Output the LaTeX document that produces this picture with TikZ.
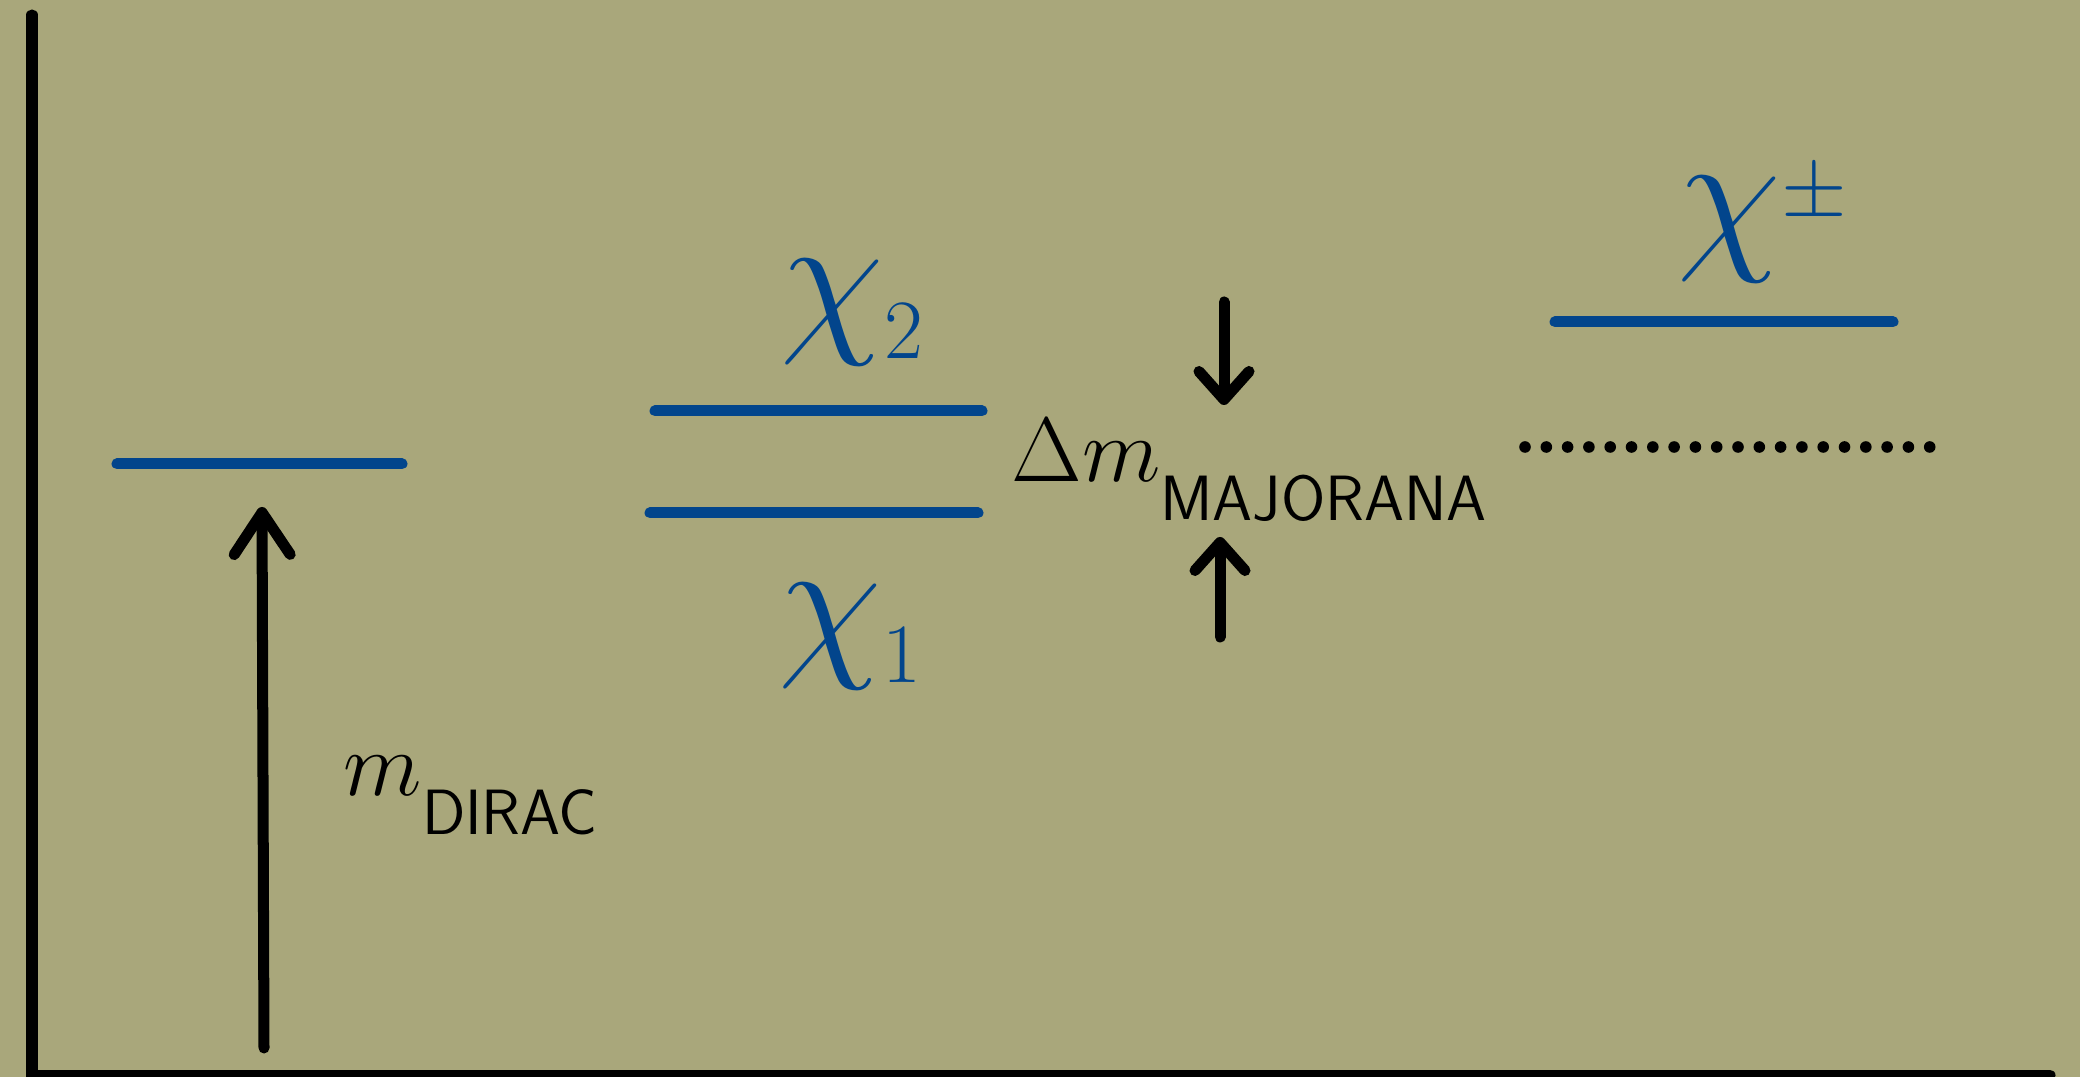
\documentclass[tikz,border=0pt]{standalone}
\usepackage{fix-cm}
\usetikzlibrary{arrows.meta}

\definecolor{paper}{RGB}{169,167,123}
\definecolor{levelblue}{RGB}{2,69,140}

% subscript set a little lower, as in the sketch
\newcommand{\lowsub}[1]{_{\raisebox{-7pt}{$\scriptstyle\mathsf{#1}$}}}

\tikzset{
  level/.style={levelblue, line width=0.11cm, line cap=round},
  pen/.style={black, line width=0.11cm, line cap=round},
  bigtip/.style={-{Straight Barb[length=0.42cm, width=0.56cm, round]}},
  smalltip/.style={-{Straight Barb[length=0.28cm, width=0.50cm, round]}},
  lab/.style={font=\fontsize{26}{30}\selectfont, inner sep=0pt},
  chilab/.style={levelblue, font=\fontsize{48}{56}\selectfont, inner sep=0pt},
}

\begin{document}
\begin{tikzpicture}[x=0.01cm, y=-0.01cm, line cap=round, line join=round]

  % Paper
  \fill[paper] (0,0) rectangle (2080,1077);
  \useasboundingbox (0,0) rectangle (2080,1077);

  % Axes
  \coordinate (ax-top) at (32,15);
  \coordinate (ax-org) at (32,1075);
  \coordinate (ax-end) at (2050,1075);
  \draw[pen, line join=miter] (ax-top) -- (ax-org) -- (ax-end);

  % Dirac level and its mass
  \coordinate (dirac-l) at (117,464);
  \coordinate (dirac-r) at (402,464);
  \draw[level] (dirac-l) -- (dirac-r);
  \coordinate (dirac-base) at (264,1048);
  \coordinate (dirac-tip) at (262,507);
  \draw[pen, bigtip] (dirac-base) -- (dirac-tip);
  \node[lab, anchor=base west] (mdirac) at (343,796) {$m\lowsub{DIRAC}$};

  % Split neutral levels
  \coordinate (chi2-l) at (655,411);
  \coordinate (chi2-r) at (982,411);
  \coordinate (chi1-l) at (650,513);
  \coordinate (chi1-r) at (978,513);
  \draw[level] (chi2-l) -- (chi2-r);
  \draw[level] (chi1-l) -- (chi1-r);
  \node[chilab, anchor=base west] (chi2) at (780,333) {$\chi_{\scriptscriptstyle 2}$};
  \node[chilab, anchor=base west] (chi1) at (778,657) {$\chi_{\scriptscriptstyle 1}$};

  % Majorana splitting
  \coordinate (maj-top) at (1224,302);
  \coordinate (maj-tipa) at (1224,405);
  \coordinate (maj-bot) at (1220,637);
  \coordinate (maj-tipb) at (1220,537);
  \draw[pen, smalltip] (maj-top) -- (maj-tipa);
  \draw[pen, smalltip] (maj-bot) -- (maj-tipb);
  \node[lab, anchor=base] (dmmaj) at (1250,482) {$\Delta m\lowsub{MAJORANA}$};

  % Charged level
  \coordinate (chipm-l) at (1555,322);
  \coordinate (chipm-r) at (1893,322);
  \draw[level] (chipm-l) -- (chipm-r);
  \node[chilab, anchor=base west] (chipm) at (1677,250)
    {$\chi^{\raisebox{-8pt}{$\scriptscriptstyle\pm$}}$};

  % Dotted reference
  \foreach \i in {0,...,19}
    \fill (1525+21.3*\i,447) circle (0.058cm);

\end{tikzpicture}
\end{document}
